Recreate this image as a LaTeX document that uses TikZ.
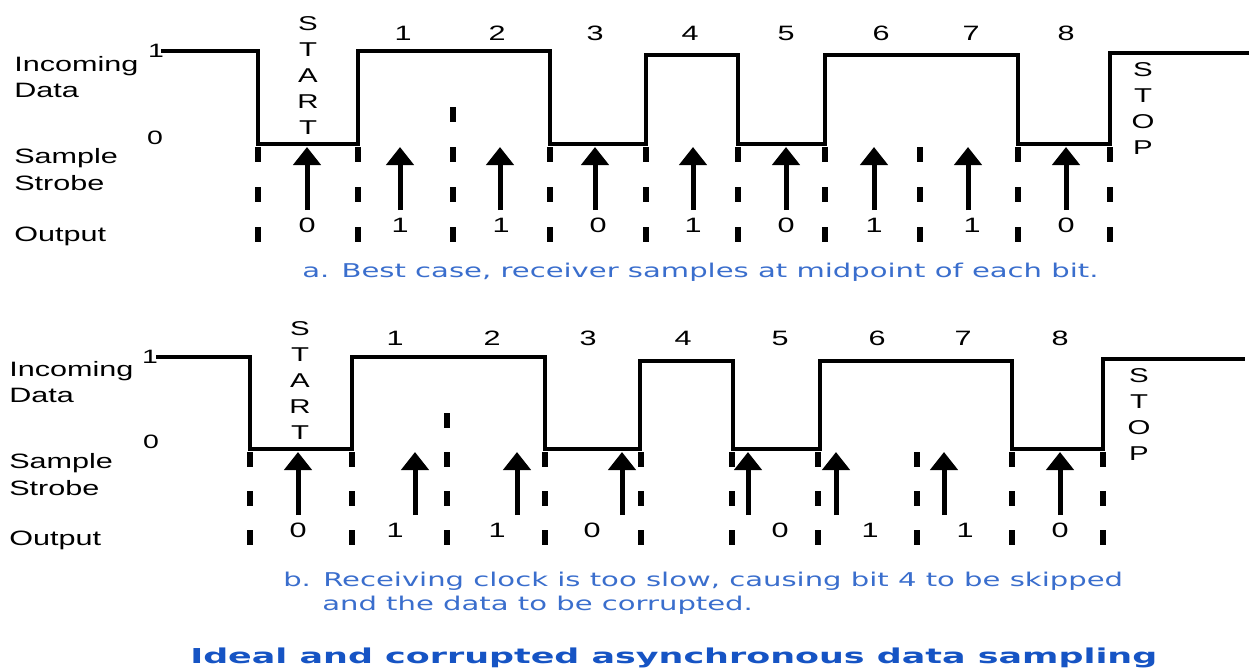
\documentclass[tikz,border=0pt]{standalone}
\usepackage{fontspec}
\usetikzlibrary{arrows.meta}
% wide sans faces for the labels and the captions
\newfontfamily\lblfont[FakeStretch=1.47]{Liberation Sans}
\newfontfamily\capfont[FakeStretch=1.53]{DejaVu Sans}
\newfontfamily\ttlfont[FakeStretch=1.70]{DejaVu Sans Bold}
\definecolor{capblue}{RGB}{58,110,205}
\definecolor{titleblue}{RGB}{22,84,196}

\begin{document}
\begin{tikzpicture}[x=0.75pt,y=-0.75pt,
  wave/.style={line width=3.4pt, line join=miter, line cap=rect},
  strobe/.style={line width=3.75pt, -{Triangle[width=20.25pt,length=13.5pt]}},
  tickA/.style={line width=4.1pt, dash pattern=on 11.25pt off 18.75pt},
  tickB/.style={line width=4.1pt, dash pattern=on 11.25pt off 18pt},
  lbl/.style={font=\lblfont\fontsize{15.6pt}{19.5pt}\selectfont, inner sep=0pt},
  lvl/.style={font=\lblfont\fontsize{14.5pt}{16pt}\selectfont, inner sep=0pt},
  vword/.style={font=\lblfont\fontsize{15pt}{19.5pt}\selectfont, inner sep=0pt, align=center},
  captxt/.style={font=\capfont\fontsize{14.25pt}{18pt}\selectfont, text=capblue, inner sep=0pt},
  ttl/.style={font=\ttlfont\fontsize{15.4pt}{19pt}\selectfont, text=titleblue, inner sep=0pt}
]
\useasboundingbox (0,0) rectangle (1249,669);
\fill[white] (0,0) rectangle (1249,669);

% ===================== a. best case =====================
% row labels
\node[lbl, anchor=base west] (a-in1) at (14,71) {Incoming};
\node[lbl, anchor=base west] (a-in2) at (14,97) {Data};
\node[lbl, anchor=base west] (a-ss1) at (14,163) {Sample};
\node[lbl, anchor=base west] (a-ss2) at (14,190) {Strobe};
\node[lbl, anchor=base west] (a-out) at (14,241) {Output};
\node[lvl] (a-hi) at (156,51) {1};
\node[lvl] (a-lo) at (155,138) {0};

% incoming data waveform
\coordinate (a-w0) at (163,51);
\draw[wave] (a-w0) -- (258,51) -- (258,144) -- (358,144) -- (358,51) -- (550,51)
  -- (550,144) -- (646,144) -- (646,55) -- (738,55) -- (738,144) -- (825,144)
  -- (825,55) -- (1018,55) -- (1018,144) -- (1110,144) -- (1110,53) -- (1249,53);

% START / STOP
\node[vword] (a-start) at (308,76) {S\\T\\A\\R\\T};
\node[vword] (a-stop) at (1143,109) {S\\T\\O\\P};

% bit numbers
\foreach \x/\n in {403/1,497/2,595/3,690/4,786/5,881/6,971/7,1066/8}
  \node[lbl] (a-bit\n) at (\x,33) {\n};

% bit boundaries
\foreach \x [count=\i] in {258,358,550,646,738,825,920,1018,1110} {
  \coordinate (a-b\i-top) at (\x,147);
  \coordinate (a-b\i-bot) at (\x,245);
  \draw[tickA] (a-b\i-top) -- (a-b\i-bot);
}
\coordinate (a-mid-top) at (453,107);
\coordinate (a-mid-bot) at (453,245);
\draw[tickA] (a-mid-top) -- (a-mid-bot);

% sample strobes
\foreach \x [count=\i] in {307,400,500,595,693,786,874,968,1066} {
  \coordinate (a-s\i-foot) at (\x,210);
  \coordinate (a-s\i-tip) at (\x,147);
  \draw[strobe] (a-s\i-foot) -- (a-s\i-tip);
}

% output bits
\foreach \x/\v [count=\i] in {307/0,400/1,501/1,598/0,693/1,786/0,874/1,972/1,1066/0}
  \node[lbl] (a-o\i) at (\x,225) {\v};

\node[captxt, anchor=base west] (a-cap) at (302,277)
  {a. Best case, receiver samples at midpoint of each bit.};

% ===================== b. slow receiver clock =====================
\node[lbl, anchor=base west] (b-in1) at (9,376) {Incoming};
\node[lbl, anchor=base west] (b-in2) at (9,402) {Data};
\node[lbl, anchor=base west] (b-ss1) at (9,468) {Sample};
\node[lbl, anchor=base west] (b-ss2) at (9,495) {Strobe};
\node[lbl, anchor=base west] (b-out) at (9,545) {Output};
\node[lvl] (b-hi) at (150,357) {1};
\node[lvl] (b-lo) at (151,442) {0};

\coordinate (b-w0) at (158,357);
\draw[wave] (b-w0) -- (250,357) -- (250,449) -- (352,449) -- (352,357) -- (545,357)
  -- (545,449) -- (640,449) -- (640,361) -- (733,361) -- (733,449) -- (820,449)
  -- (820,361) -- (1012,361) -- (1012,449) -- (1103,449) -- (1103,359) -- (1243,359);

\node[vword] (b-start) at (300,381) {S\\T\\A\\R\\T};
\node[vword] (b-stop) at (1139,415) {S\\T\\O\\P};

\foreach \x/\n in {395/1,492/2,588/3,683/4,780/5,877/6,963/7,1060/8}
  \node[lbl] (b-bit\n) at (\x,338) {\n};

\foreach \x [count=\i] in {250,352,545,641,732,818,917,1012,1103} {
  \coordinate (b-b\i-top) at (\x,452);
  \coordinate (b-b\i-bot) at (\x,546);
  \draw[tickB] (b-b\i-top) -- (b-b\i-bot);
}
\coordinate (b-mid-top) at (447,413);
\coordinate (b-mid-bot) at (447,546);
\draw[tickB] (b-mid-top) -- (b-mid-bot);

\foreach \x [count=\i] in {298,415,517,622,748,836,944,1060} {
  \coordinate (b-s\i-foot) at (\x,515);
  \coordinate (b-s\i-tip) at (\x,452);
  \draw[strobe] (b-s\i-foot) -- (b-s\i-tip);
}

\foreach \x/\v [count=\i] in {298/0,395/1,497/1,592/0,780/0,870/1,965/1,1060/0}
  \node[lbl] (b-o\i) at (\x,530) {\v};

\node[captxt, anchor=base west] (b-cap1) at (283,586)
  {b. Receiving clock is too slow, causing bit 4 to be skipped};
\node[captxt, anchor=base west] (b-cap2) at (322,610)
  {and the data to be corrupted.};

\node[ttl, anchor=base west] (title) at (190,663)
  {Ideal and corrupted asynchronous data sampling};
\end{tikzpicture}
\end{document}
